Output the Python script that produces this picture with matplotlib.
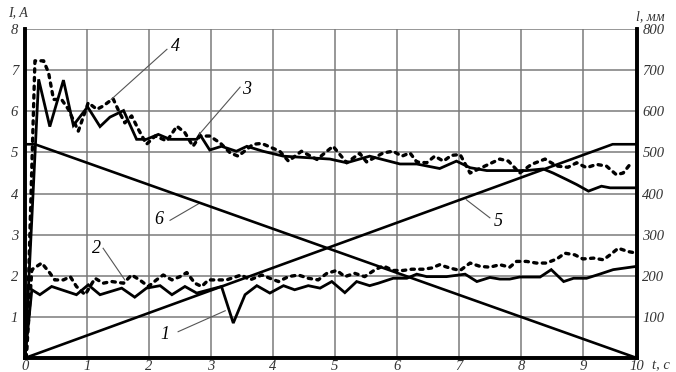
import matplotlib
matplotlib.use("Agg")
import matplotlib.pyplot as plt

# ---- data (t in s as drawn; right edge of chart labelled 10) ----
T_END = 9.87

# curve 3 : current, solid (upper)
t3 = [0, 0.22, 0.40, 0.62, 0.78, 1.01, 1.21, 1.37, 1.59, 1.80, 1.96, 2.15, 2.34, 2.77, 2.82,
      2.98, 3.17, 3.41, 3.58, 3.84, 4.17, 4.92, 5.19, 5.56, 6.05, 6.32, 6.69, 6.96, 7.18,
      7.45, 8.09, 8.36, 8.52, 8.74, 8.90, 9.09, 9.30, 9.44, 9.87]
i3 = [0, 6.78, 5.63, 6.76, 5.66, 6.11, 5.63, 5.86, 6.02, 5.32, 5.32, 5.44, 5.32, 5.32, 5.44,
      5.06, 5.15, 5.03, 5.15, 5.03, 4.91, 4.84, 4.75, 4.91, 4.72, 4.72, 4.61, 4.79, 4.63,
      4.56, 4.56, 4.60, 4.50, 4.34, 4.22, 4.06, 4.18, 4.14, 4.14]

# curve 4 : current, dotted (upper)
t4 = [0.02, 0.16, 0.30, 0.38, 0.46, 0.59, 0.70, 0.86, 1.02, 1.16, 1.26, 1.42, 1.50, 1.61,
      1.72, 1.83, 1.96, 2.10, 2.29, 2.45, 2.58, 2.71, 2.82, 2.98, 3.15, 3.31, 3.44, 3.68,
      3.82, 4.11, 4.25, 4.46, 4.71, 4.87, 4.97, 5.19, 5.40, 5.51, 5.78, 5.94, 6.08, 6.21,
      6.32, 6.48, 6.61, 6.75, 6.88, 7.02, 7.18, 7.42, 7.66, 7.80, 7.98, 8.17, 8.39, 8.58,
      8.76, 8.90, 9.06, 9.22, 9.38, 9.54, 9.65, 9.76]
i4 = [0, 7.23, 7.23, 6.94, 6.29, 6.29, 6.05, 5.52, 6.21, 6.05, 6.13, 6.31, 6.05, 5.72,
      5.89, 5.56, 5.20, 5.40, 5.28, 5.64, 5.48, 5.15, 5.40, 5.40, 5.23, 4.99, 4.91, 5.20,
      5.22, 5.03, 4.79, 5.03, 4.83, 5.03, 5.15, 4.75, 4.98, 4.77, 4.99, 5.03, 4.91, 4.99,
      4.77, 4.75, 4.91, 4.79, 4.93, 4.95, 4.50, 4.67, 4.84, 4.79, 4.50, 4.71, 4.84, 4.67,
      4.64, 4.75, 4.63, 4.71, 4.67, 4.46, 4.50, 4.71]

# curve 1 : current, solid (lower)
t1 = [0, 0.11, 0.24, 0.43, 0.59, 0.83, 1.02, 1.21, 1.56, 1.77, 1.96, 2.18, 2.37, 2.58,
      2.77, 3.17, 3.36, 3.55, 3.74, 3.95, 4.17, 4.35, 4.57, 4.76, 4.95, 5.16, 5.35, 5.56,
      5.70, 5.94, 6.16, 6.32, 6.48, 6.80, 7.10, 7.29, 7.50, 7.66, 7.82, 7.98, 8.31, 8.49,
      8.69, 8.85, 9.06, 9.27, 9.49, 9.87]
i1 = [0, 1.66, 1.54, 1.74, 1.66, 1.54, 1.78, 1.54, 1.70, 1.48, 1.70, 1.76, 1.54, 1.74,
      1.58, 1.74, 0.85, 1.54, 1.76, 1.58, 1.76, 1.66, 1.76, 1.70, 1.86, 1.59, 1.86, 1.76,
      1.82, 1.94, 1.94, 2.04, 1.98, 1.98, 2.04, 1.86, 1.96, 1.92, 1.92, 1.97, 1.97, 2.15,
      1.86, 1.94, 1.94, 2.04, 2.15, 2.23]

# curve 2 : current, dotted (lower)
t2 = [0.02, 0.11, 0.27, 0.40, 0.48, 0.62, 0.73, 0.83, 0.97, 1.13, 1.26, 1.40, 1.59, 1.72,
      1.85, 1.99, 2.12, 2.23, 2.37, 2.50, 2.61, 2.74, 2.85, 2.96, 3.09, 3.25, 3.49, 3.63,
      3.82, 3.95, 4.09, 4.25, 4.41, 4.57, 4.73, 4.87, 5.03, 5.16, 5.32, 5.48, 5.65, 5.78,
      5.94, 6.10, 6.24, 6.42, 6.56, 6.69, 6.85, 7.02, 7.18, 7.34, 7.50, 7.66, 7.82, 7.93,
      8.09, 8.25, 8.41, 8.58, 8.71, 8.87, 9.00, 9.17, 9.33, 9.44, 9.57, 9.73, 9.87]
i2 = [0, 2.15, 2.31, 2.07, 1.90, 1.90, 1.98, 1.74, 1.54, 1.94, 1.82, 1.86, 1.82, 2.02,
      1.90, 1.74, 1.90, 2.02, 1.90, 1.98, 2.08, 1.82, 1.74, 1.90, 1.90, 1.90, 2.02, 1.90,
      2.02, 1.94, 1.86, 1.98, 2.02, 1.94, 1.90, 2.06, 2.13, 1.98, 2.06, 1.98, 2.15, 2.24,
      2.13, 2.13, 2.16, 2.16, 2.19, 2.27, 2.19, 2.13, 2.31, 2.23, 2.21, 2.27, 2.21, 2.35,
      2.35, 2.31, 2.31, 2.41, 2.55, 2.51, 2.41, 2.43, 2.39, 2.51, 2.67, 2.59, 2.55]

# curve 5 and 6 : length l, mm (right axis)
t5 = [0, 9.48, T_END]
l5 = [0, 520, 520]
t6 = [0, 0.16, T_END]
l6 = [520, 520, 0]

x_ticks = [0, 1, 2, 3, 4, 5, 6, 7, 8, 9, T_END]
x_labels = ["0", "1", "2", "3", "4", "5", "6", "7", "8", "9", "10"]
yl_ticks = [1, 2, 3, 4, 5, 6, 7, 8]
yr_ticks = [100, 200, 300, 400, 500, 600, 700, 800]

# ---- figure ----
plt.rcParams['font.family'] = ['Liberation Serif', 'DejaVu Serif']
plt.rcParams['font.style'] = 'italic'
fig = plt.figure(figsize=(6.76, 3.72), dpi=100)
ax = fig.add_axes([0.037, 0.0376, 0.905, 0.884])
ax2 = ax.twinx()

ax.set_xlim(0, T_END)
ax.set_ylim(0, 8)
ax2.set_ylim(0, 800)

grid_c = '#7a7a7a'
for x in range(1, 10):
    ax.axvline(x, color=grid_c, lw=1.1, zorder=1)
for y in range(1, 9):
    ax.axhline(y, color=grid_c, lw=1.1, zorder=1)

solid = dict(color='black', lw=2.0, solid_joinstyle='miter', zorder=3)
dotted = dict(color='black', lw=2.4, linestyle=(0, (1.0, 1.6)), dash_capstyle='round', zorder=3)

ax.plot(t3, i3, **solid)
ax.plot(t1, i1, **solid)
ax.plot(t4, i4, **dotted)
ax.plot(t2, i2, **dotted)
ax2.plot(t5, l5, color='black', lw=1.9, zorder=3)
ax2.plot(t6, l6, color='black', lw=1.9, zorder=3)

# spines
for s in ['left', 'bottom', 'right']:
    ax.spines[s].set_linewidth(2.6)
    ax2.spines[s].set_linewidth(2.6)
ax.spines['top'].set_visible(False)
ax2.spines['top'].set_visible(False)

ax.set_xticks(x_ticks)
ax.set_xticklabels(x_labels)
ax.set_yticks(yl_ticks)
ax2.set_yticks(yr_ticks)
ax.tick_params(axis='x', length=0, pad=1.5, labelsize=10.5, colors='#333333')
ax.tick_params(axis='y', length=0, pad=5, labelsize=10.5, colors='#333333')
ax2.tick_params(axis='y', length=0, pad=4, labelsize=10.5, colors='#333333')
for lab in ax.get_xticklabels() + ax.get_yticklabels() + ax2.get_yticklabels():
    lab.set_fontstyle('italic')

# axis titles
fig.text(8 / 676, 1 - 13 / 372, "I, A", fontsize=10, style='italic', va='center', ha='left', color='#333333')
fig.text(636 / 676, 1 - 17 / 372, "l, мм", fontsize=10, style='italic', va='center', ha='left', color='#333333')
fig.text(652 / 676, 1 - 366 / 372, "t, с", fontsize=10.5, style='italic', va='center', ha='left', color='#333333')

# curve labels with leader lines
ann = [
    ("4", (1.39, 6.29), (2.29, 7.51), (2.42, 7.59)),
    ("3", (2.81, 5.44), (3.47, 6.59), (3.58, 6.54)),
    ("6", (2.82, 3.77), (2.34, 3.35), (2.15, 3.37)),
    ("2", (1.61, 1.90), (1.26, 2.67), (1.16, 2.67)),
    ("1", (3.23, 1.15), (2.47, 0.64), (2.26, 0.56)),
    ("5", (7.12, 3.85), (7.50, 3.41), (7.63, 3.32)),
]
for txt, p0, p1, pt in ann:
    ax.plot([p0[0], p1[0]], [p0[1], p1[1]], color='#555555', lw=0.8, zorder=4)
    ax.text(pt[0], pt[1], txt, fontsize=13, style='italic', ha='center', va='center', zorder=5)

fig.savefig("out.png", dpi=100)
